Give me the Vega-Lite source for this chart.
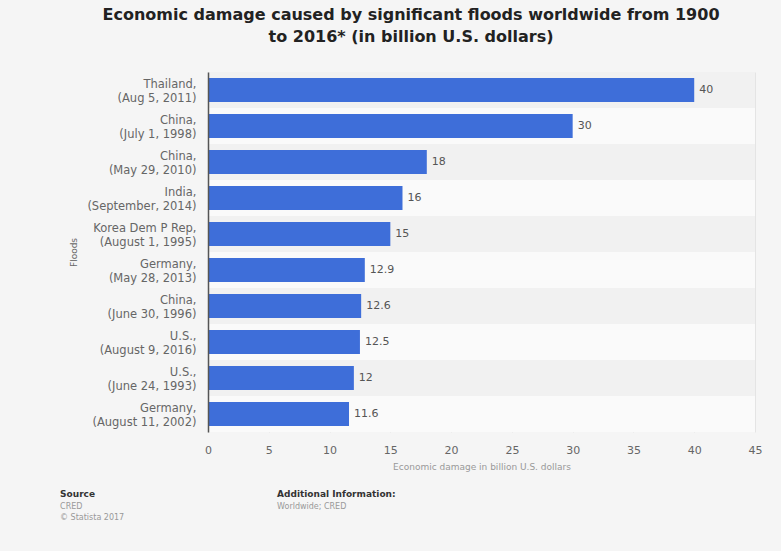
{
  "$schema": "https://vega.github.io/schema/vega-lite/v6.json",
  "width": 547,
  "height": 360,
  "autosize": {"type": "none"},
  "padding": {"left": 208, "top": 72, "right": 26, "bottom": 119},
  "background": "#f5f5f5",
  "config": {
    "font": "DejaVu Sans",
    "view": {"stroke": null},
    "title": {"font": "DejaVu Sans", "fontSize": 16, "fontWeight": "bold", "color": "#222222", "anchor": "middle", "frame": "bounds", "offset": 27, "lineHeight": 22}
  },
  "title": {"text": ["Economic damage caused by significant floods worldwide from 1900", "to 2016* (in billion U.S. dollars)"]},
  "datasets": {
    "floods": [
      {"flood": "Thailand,|(Aug 5, 2011)", "damage": 40},
      {"flood": "China,\u00a0|(July 1, 1998)", "damage": 30},
      {"flood": "China,\u00a0|(May 29, 2010)", "damage": 18},
      {"flood": "India,|(September, 2014)", "damage": 16},
      {"flood": "Korea Dem P Rep,\u00a0|(August 1, 1995)", "damage": 15},
      {"flood": "Germany,|(May 28, 2013)", "damage": 12.9},
      {"flood": "China,\u00a0|(June 30, 1996)", "damage": 12.6},
      {"flood": "U.S.,\u00a0|(August 9, 2016)", "damage": 12.5},
      {"flood": "U.S.,|(June 24, 1993)", "damage": 12},
      {"flood": "Germany,\u00a0|(August 11, 2002)", "damage": 11.6}
    ],
    "footHeads": [
      {"t": "Source", "px": -12.17, "py": 422},
      {"t": "Additional Information:", "px": 5.68, "py": 422}
    ],
    "footBody": [
      {"t": "CRED", "px": -12.17, "py": 435},
      {"t": "© Statista 2017", "px": -12.17, "py": 446},
      {"t": "Worldwide; CRED", "px": 5.68, "py": 435}
    ]
  },
  "layer": [
    {
      "data": {"name": "floods"},
      "encoding": {
        "y": {
          "field": "flood", "type": "nominal", "sort": null,
          "scale": {"paddingInner": 0, "paddingOuter": 0},
          "axis": {
            "title": "Floods", "titleFont": "DejaVu Sans", "titleFontSize": 9, "titleFontWeight": "normal", "titleColor": "#666666", "titlePadding": 8,
            "labelExpr": "split(datum.label, '|')", "labelFontSize": 11.5, "labelColor": "#666666", "labelLineHeight": 14, "labelPadding": 12, "labelOffset": -5,
            "ticks": false, "domain": true, "domainColor": "#555555", "domainWidth": 1.5, "grid": false
          }
        }
      },
      "layer": [
        {
          "transform": [{"window": [{"op": "row_number", "as": "rn"}]}],
          "mark": {"type": "rect"},
          "encoding": {
            "x": {"datum": 0, "type": "quantitative"},
            "x2": {"datum": 45},
            "fill": {"condition": {"test": "datum.rn % 2 == 1", "value": "#f1f1f1"}, "value": "#fafafa"}
          }
        },
        {
          "mark": {"type": "bar", "color": "#3e6ed9", "height": {"band": 0.67}},
          "encoding": {
            "x": {
              "field": "damage", "type": "quantitative",
              "scale": {"domain": [0, 45], "nice": false},
              "axis": {
                "title": "Economic damage in billion U.S. dollars", "titleFont": "DejaVu Sans", "titleFontSize": 9, "titleFontWeight": "normal", "titleColor": "#999999", "titlePadding": 7,
                "values": [0, 5, 10, 15, 20, 25, 30, 35, 40, 45],
                "labelFontSize": 11, "labelColor": "#666666", "labelPadding": 12, "labelFlush": false,
                "ticks": false, "domain": false, "grid": true, "gridColor": "#e4e4e4", "gridWidth": 1
              }
            }
          }
        },
        {
          "mark": {"type": "text", "align": "left", "dx": 5, "fontSize": 11, "color": "#555555"},
          "encoding": {
            "x": {"field": "damage", "type": "quantitative"},
            "text": {"field": "damage", "type": "quantitative"}
          }
        }
      ]
    },
    {
      "data": {"name": "footHeads"},
      "mark": {"type": "text", "align": "left", "fontSize": 9, "fontWeight": "bold", "color": "#333333"},
      "encoding": {
        "x": {"field": "px", "type": "quantitative"},
        "y": {"field": "py", "type": "quantitative", "scale": {"domain": [0, 360], "reverse": true}, "axis": null},
        "text": {"field": "t"}
      }
    },
    {
      "data": {"name": "footBody"},
      "mark": {"type": "text", "align": "left", "fontSize": 8, "color": "#999999"},
      "encoding": {
        "x": {"field": "px", "type": "quantitative"},
        "y": {"field": "py", "type": "quantitative", "scale": {"domain": [0, 360], "reverse": true}, "axis": null},
        "text": {"field": "t"}
      }
    }
  ],
  "resolve": {"scale": {"y": "independent"}}
}
